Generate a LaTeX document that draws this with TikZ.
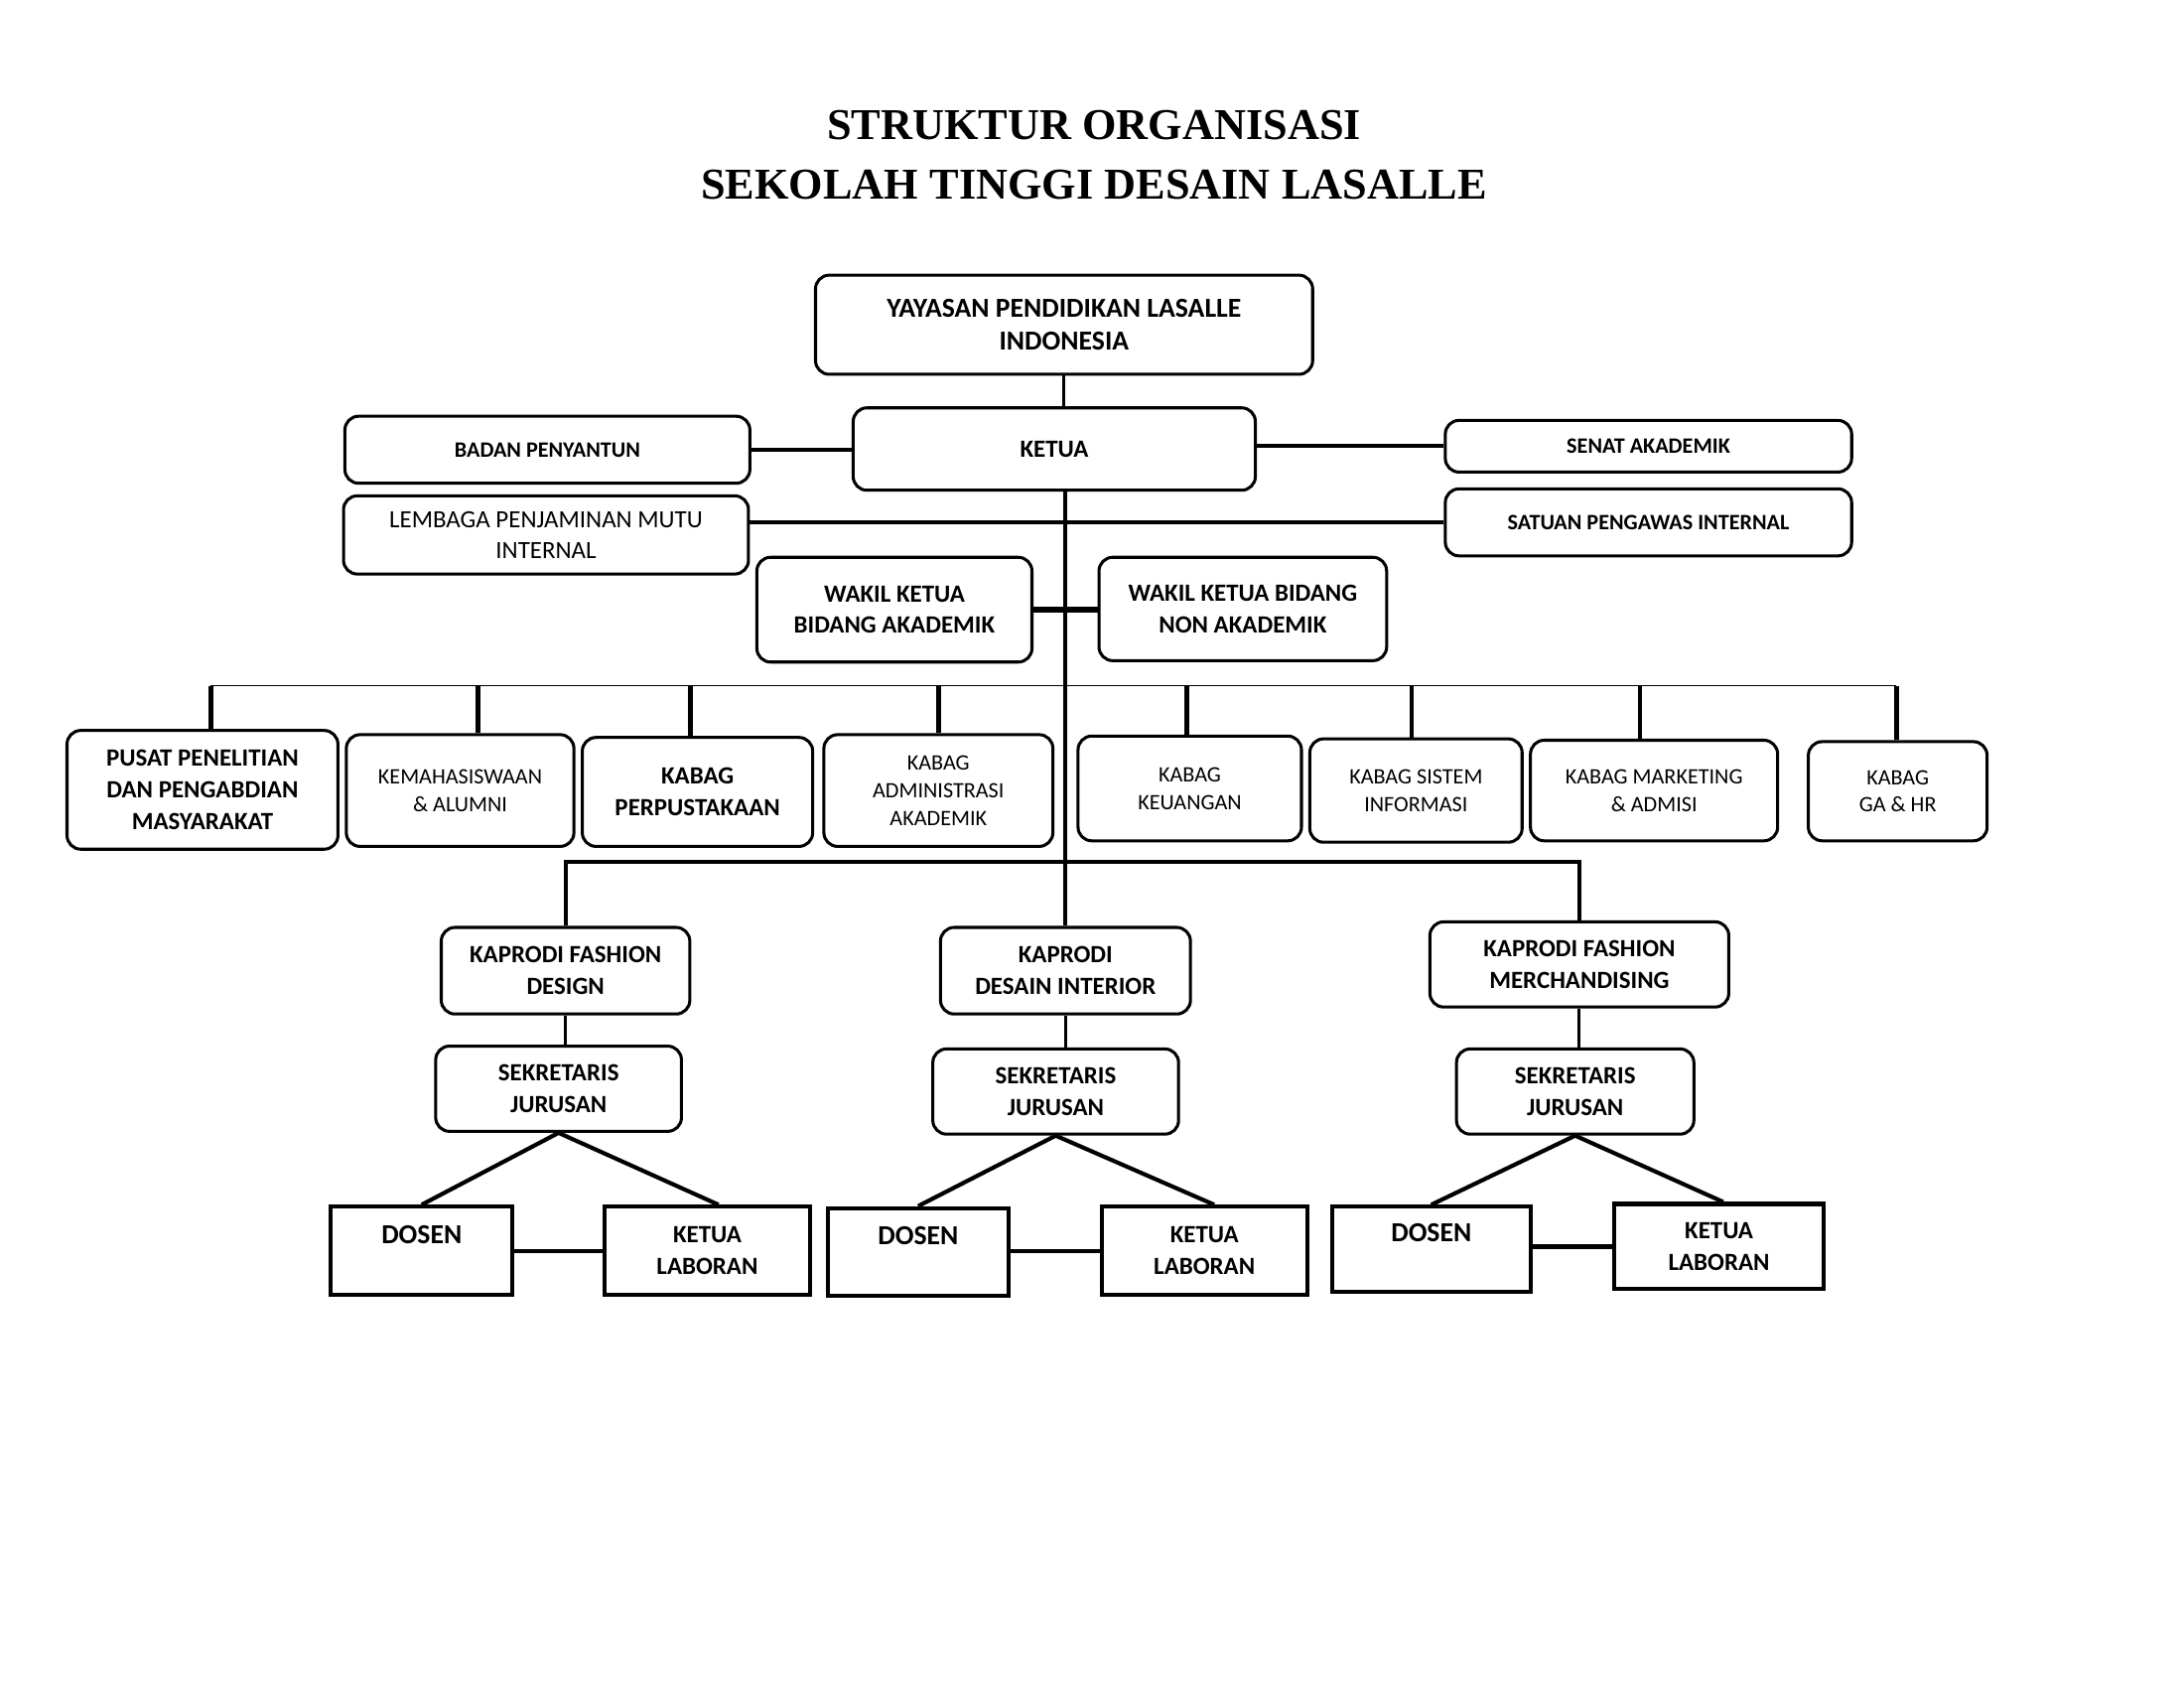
\documentclass[tikz,border=0pt]{standalone}
\usepackage{fontspec}
\setmainfont{Carlito}
\newfontfamily\titlefont{Liberation Serif}
\usetikzlibrary{calc}

\begin{document}
\begin{tikzpicture}[x=0.01786cm,y=-0.01786cm,
    box/.style={draw,rounded corners=5pt,line width=1.1pt,align=center,inner sep=0pt},
    sqbox/.style={draw,line width=1.5pt,align=center,inner sep=0pt},
    wh/.style 2 args={minimum width=#1*0.01786cm,minimum height=#2*0.01786cm},
    tb10/.style={font=\fontsize{10}{12}\selectfont\bfseries},
    tb9/.style={font=\fontsize{9}{11.5}\selectfont\bfseries},
    tb8/.style={font=\fontsize{8}{10}\selectfont\bfseries},
    tr9/.style={font=\fontsize{9}{11}\selectfont},
    tr8/.style={font=\fontsize{8}{10}\selectfont},
    hair/.style={line width=0.5pt},
    thinlink/.style={line width=1.1pt},
    link/.style={line width=1.5pt},
    drop/.style={line width=1.7pt},
    heavy/.style={line width=2.3pt}]
\useasboundingbox (0,0) rectangle (1564,1208.5);

%title
\node[font=\titlefont\bfseries\fontsize{16}{20}\selectfont,anchor=base] (title1) at (783.5,100){STRUKTUR ORGANISASI};
\node[font=\titlefont\bfseries\fontsize{16}{20}\selectfont,anchor=base] (title2) at (783.5,142.5){SEKOLAH TINGGI DESAIN LASALLE};

%top
\node[box,wh={356}{71},tb10] (yayasan) at (762,232.5){YAYASAN PENDIDIKAN LASALLE\\INDONESIA};
\node[box,wh={288}{59},tb9] (ketua) at (755,321.5){KETUA};
\node[box,wh={290}{48},tb8] (badan) at (392,322){BADAN PENYANTUN};
\node[box,wh={290}{56},tr9] (lpm) at (391,383){LEMBAGA PENJAMINAN MUTU\\INTERNAL};
\node[box,wh={291}{37},tb8] (senat) at (1180.5,319.5){SENAT AKADEMIK};
\node[box,wh={291}{48},tb8] (spi) at (1180.5,374){SATUAN PENGAWAS INTERNAL};
\node[box,wh={197}{75},tb9] (wk1) at (640.5,436.5){WAKIL KETUA\\BIDANG AKADEMIK};
\node[box,wh={206}{74},tb9] (wk2) at (890,436){WAKIL KETUA BIDANG\\NON AKADEMIK};

%kabag
\node[box,wh={194}{85},tb9] (pusat) at (145,565.5){PUSAT PENELITIAN\\DAN PENGABDIAN\\MASYARAKAT};
\node[box,wh={163}{80},tr8] (kmhs) at (329.5,566){KEMAHASISWAAN\\\& ALUMNI};
\node[box,wh={165}{78},tb9] (perpus) at (499.5,567){KABAG\\PERPUSTAKAAN};
\node[box,wh={164}{80},tr8] (adm) at (672,566){KABAG\\ADMINISTRASI\\AKADEMIK};
\node[box,wh={160}{75},tr8] (keu) at (852,564.5){KABAG\\KEUANGAN};
\node[box,wh={152}{74},tr8] (si) at (1014,566){KABAG SISTEM\\INFORMASI};
\node[box,wh={177}{72},tr8] (mkt) at (1184.5,566){KABAG MARKETING\\\& ADMISI};
\node[box,wh={128}{71},tr8] (gahr) at (1359,566.5){KABAG\\GA \& HR};

%prodi
\node[box,wh={178}{62},tb9] (kp1) at (405,695){KAPRODI FASHION\\DESIGN};
\node[box,wh={179}{62},tb9] (kp2) at (763,695){KAPRODI\\DESAIN INTERIOR};
\node[box,wh={214}{61},tb9] (kp3) at (1131,690.5){KAPRODI FASHION\\MERCHANDISING};
\node[box,wh={176}{61},tb9] (sek1) at (400,779.5){SEKRETARIS\\JURUSAN};
\node[box,wh={176}{61},tb9] (sek2) at (756,781.5){SEKRETARIS\\JURUSAN};
\node[box,wh={170}{61},tb9] (sek3) at (1128,781.5){SEKRETARIS\\JURUSAN};
\node[sqbox,wh={130}{63},tb10] (dos1) at (302,895.5){DOSEN\\\phantom{L}};
\node[sqbox,wh={147}{63},tb9] (lab1) at (506.5,895.5){KETUA\\LABORAN};
\node[sqbox,wh={129}{63},tb10] (dos2) at (657.5,896.5){DOSEN\\\phantom{L}};
\node[sqbox,wh={147}{63},tb9] (lab2) at (862.5,895.5){KETUA\\LABORAN};
\node[sqbox,wh={142}{61},tb10] (dos3) at (1025,894.5){DOSEN\\\phantom{L}};
\node[sqbox,wh={150}{61},tb9] (lab3) at (1231,892.5){KETUA\\LABORAN};

%lines
\draw[thinlink] (yayasan.south) -- (yayasan.south |- ketua.north);
\draw[link] (kp2.north |- ketua.south) -- (kp2.north);
\draw[link] (badan.east) -- (badan.east -| ketua.west);
\draw[link] (ketua.east |- senat.west) -- (senat.west);
\draw[link] (lpm.east |- spi.west) -- (spi.west);
\draw[heavy] (wk1.east) -- (wk1.east -| wk2.west);

\coordinate (kbus) at (764,491);
\draw[hair] ($(pusat.north |- kbus)+(6,0)$) -- ($(gahr.north |- kbus)+(-1,0)$);
\foreach \n/\d in {pusat/6,kmhs/13,perpus/-5,adm/0,keu/-2,si/-3,mkt/-10,gahr/-1}{
    \draw[drop] ($(\n.north)+(\d,0)$) -- ($(\n.north |- kbus)+(\d,0)$);
}

\coordinate (pbus) at (763,617);
\draw[link] (kp1.north) |- (pbus) -| (kp3.north);

\foreach \i/\d in {1/8,2/7,3/3}{
    \draw[thinlink] (kp\i.south) -- (kp\i.south |- sek\i.north);
    \draw[link] (dos\i.north) -- (sek\i.south) -- ($(lab\i.north)+(\d,0)$);
    \draw[link] (dos\i.east |- lab\i.west) -- (lab\i.west);
}

\end{tikzpicture}
\end{document}
